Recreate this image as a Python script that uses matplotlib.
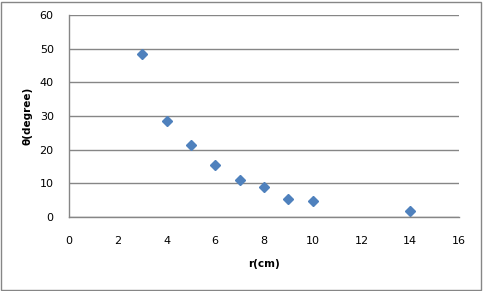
import matplotlib
matplotlib.use('Agg')
import matplotlib.pyplot as plt
from matplotlib.patches import Rectangle

r_cm = [3, 4, 5, 6, 7, 8, 9, 10, 14]
theta_deg = [48.4, 28.4, 21.4, 15.3, 10.9, 8.9, 5.3, 4.85, 1.9]

x_ticks = [0, 2, 4, 6, 8, 10, 12, 14, 16]
y_ticks = [0, 10, 20, 30, 40, 50, 60]

plt.rcParams['font.family'] = ['DejaVu Sans']

fig = plt.figure(figsize=(4.83, 2.91), dpi=100)
ax = fig.add_axes([69/483, 1 - 217/291, 390/483, 202/291])

ax.plot(r_cm, theta_deg, linestyle='none', marker='D', markersize=5,
        color='#4F81BD', markeredgecolor='#4F81BD')

ax.set_xlim(0, 16)
ax.set_ylim(0, 60)
ax.set_xticks(x_ticks)
ax.set_yticks(y_ticks)
ax.tick_params(axis='both', length=0, labelsize=8, colors='black')
ax.tick_params(axis='x', pad=14)
ax.tick_params(axis='y', pad=11)
ax.grid(axis='y', color='#868686', linewidth=1)
ax.set_axisbelow(True)
for s in ['top', 'right']:
    ax.spines[s].set_visible(False)
for s in ['left', 'bottom']:
    ax.spines[s].set_color('#868686')
    ax.spines[s].set_linewidth(1)

ax.set_xlabel('r(cm)', fontsize=7.5, fontweight='bold', labelpad=9)
ax.set_ylabel('θ(degree)', fontsize=7.5, fontweight='bold', labelpad=5)

fig.patches.append(Rectangle((1/483, 1/291), 480/483, 288/291, transform=fig.transFigure,
                             fill=False, edgecolor='#868686', linewidth=1))

fig.savefig('out.png', dpi=100)
